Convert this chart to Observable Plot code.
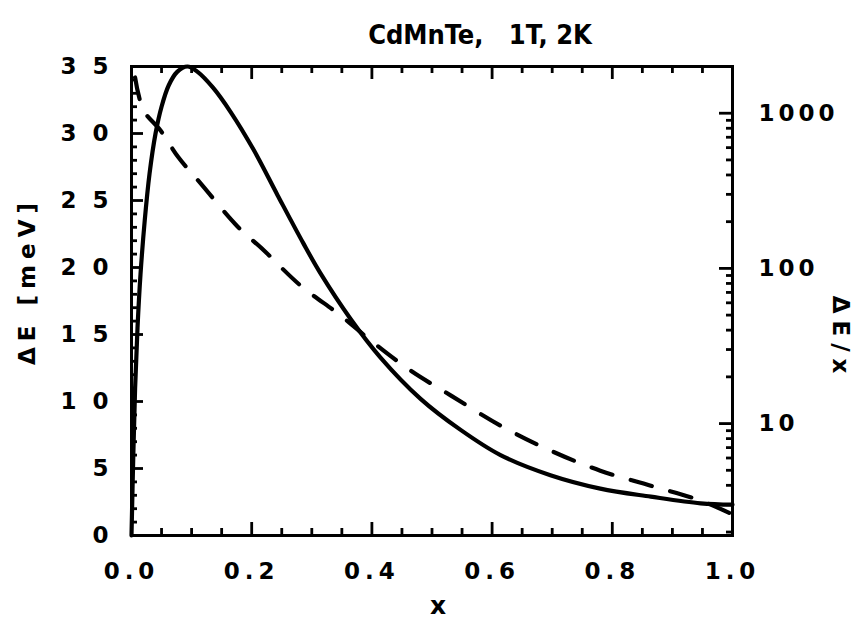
<!DOCTYPE html>
<html><head><meta charset="utf-8">
<script src="https://cdn.jsdelivr.net/npm/d3@7"></script>
<script src="https://cdn.jsdelivr.net/npm/@observablehq/plot@0.6"></script>
<style>
body{margin:0;background:#fff;}
#wrap{position:relative;width:857px;height:625px;}
#wrap svg{position:absolute;left:0;top:0;}
</style></head><body><div id="wrap"></div>
<script>
// ---- data ----
const titleText = "CdMnTe,   1T, 2K";
const xLabel = "x";
const leftLabel = "ΔE [meV]";
const rightLabel = "ΔE/x";

// solid curve: ΔE (meV), left linear axis
const solidX = [0, 0.003, 0.006, 0.01, 0.015, 0.022, 0.03, 0.04, 0.05, 0.062, 0.076, 0.093, 0.11, 0.136, 0.165, 0.203, 0.243, 0.286, 0.314, 0.364, 0.414, 0.481, 0.547, 0.614, 0.697, 0.78, 0.864, 0.947, 1.0];
const solidE = [0, 6, 11, 15.5, 19.5, 23.5, 27, 30, 32, 33.6, 34.6, 35, 34.6, 33.4, 31.6, 28.8, 25.4, 21.8, 19.6, 16.2, 13.3, 10.2, 7.9, 6.0, 4.5, 3.5, 2.9, 2.4, 2.3];

// dashed curve: ΔE/x, right log axis
const dashX = [0.006, 0.02, 0.048, 0.078, 0.115, 0.176, 0.22, 0.281, 0.348, 0.398, 0.464, 0.531, 0.614, 0.697, 0.78, 0.864, 0.947, 1.0];
const dashR = [1700, 1045, 777, 520, 353, 187, 131, 77.7, 49.7, 34.3, 22.0, 15.2, 9.7, 6.7, 4.97, 3.98, 3.19, 2.6];

const xTickValues = [0, 0.2, 0.4, 0.6, 0.8, 1.0];
const leftTickValues = [0, 5, 10, 15, 20, 25, 30, 35];
const rightTickValues = [10, 100, 1000];

// ---- layout ----
const W = 857, H = 625, ML = 131, MR = 125, MT = 66, MB = 90;
const FW = W - ML - MR, FH = H - MT - MB;
const xDomain = [0, 1];
const leftDomain = [0, 35];
const rightDomain = [1.9, 2000];

const solid = solidX.map((x, i) => ({x, y: solidE[i]}));
const dashed = dashX.map((x, i) => ({x, y: dashR[i]}));

const xMajorTicks = [0.2, 0.4, 0.6, 0.8];
const xMinorTicks = d3.range(1, 20).map(i => i * 0.05).filter(v => !xMajorTicks.some(m => Math.abs(m - v) < 1e-9));
const leftMajorTicks = [5, 10, 15, 20, 25, 30];
const leftMinorTicks = d3.range(1, 35).filter(v => v % 5 !== 0);
const rightMinorTicks = [];
for (const dec of [1, 10, 100, 1000]) for (let k = 2; k <= 9; k++) {
  const v = k * dec; if (v > rightDomain[0] && v < rightDomain[1]) rightMinorTicks.push(v);
}

// tick lengths in pixels, expressed in data units of each scale
const xLen = px => px * (xDomain[1] - xDomain[0]) / FW;
const yLen = px => px * (leftDomain[1] - leftDomain[0]) / FH;

const common = {
  width: W, height: H, marginLeft: ML, marginRight: MR, marginTop: MT, marginBottom: MB,
  x: {domain: xDomain, axis: null}
};
const tk = {stroke: "#000", strokeWidth: 2.8, strokeLinecap: "butt"};
const baseStyle = {fontFamily: "'DejaVu Sans', sans-serif", fontWeight: "bold", fontSize: "23px", background: "transparent", overflow: "visible"};

const p1 = Plot.plot({
  ...common,
  style: baseStyle,
  y: {domain: leftDomain, axis: null},
  marks: [
    Plot.ruleX(xMinorTicks, {x: d => d, y1: leftDomain[0], y2: leftDomain[0] + yLen(7), ...tk}),
    Plot.ruleX(xMajorTicks, {x: d => d, y1: leftDomain[0], y2: leftDomain[0] + yLen(13), ...tk}),
    Plot.ruleX(xMinorTicks, {x: d => d, y1: leftDomain[1], y2: leftDomain[1] - yLen(7), ...tk}),
    Plot.ruleX(xMajorTicks, {x: d => d, y1: leftDomain[1], y2: leftDomain[1] - yLen(13), ...tk}),
    Plot.ruleY(leftMinorTicks, {y: d => d, x1: xDomain[0], x2: xDomain[0] + xLen(6), ...tk}),
    Plot.ruleY(leftMajorTicks, {y: d => d, x1: xDomain[0], x2: xDomain[0] + xLen(12), ...tk}),
    Plot.frame({stroke: "#000", strokeWidth: 3}),
    Plot.line(solid, {x: "x", y: "y", stroke: "#000", strokeWidth: 4.2, curve: "catmull-rom"}),
    Plot.text(xTickValues, {x: d => d, frameAnchor: "bottom", dy: 43, textAnchor: "middle", text: d => d.toFixed(1), fill: "#000", fontSize: 23}),
    Plot.text(leftTickValues, {y: d => d, frameAnchor: "left", dx: -19, textAnchor: "end", text: d => String(d).split("").join(" "), fill: "#000", fontSize: 23}),
    Plot.text([leftLabel], {frameAnchor: "left", dx: -104, dy: -20, textAnchor: "middle", rotate: -90, fill: "#000", fontSize: 23}),
    Plot.text([xLabel], {frameAnchor: "bottom", dx: 6, dy: 78, textAnchor: "middle", fill: "#000", fontSize: 25}),
    Plot.text([titleText], {frameAnchor: "top", dx: 48, dy: -42, textAnchor: "middle", fill: "#000", fontSize: 27, fontFamily: "'Liberation Sans Narrow', 'DejaVu Sans Condensed', sans-serif"})
  ]
});

const p2 = Plot.plot({
  ...common,
  style: baseStyle,
  y: {type: "log", domain: rightDomain, axis: null},
  marks: [
    Plot.ruleY(rightMinorTicks, {y: d => d, x1: xDomain[1], x2: xDomain[1] - xLen(6), ...tk}),
    Plot.ruleY(rightTickValues, {y: d => d, x1: xDomain[1], x2: xDomain[1] - xLen(13), ...tk}),
    Plot.line(dashed, {x: "x", y: "y", stroke: "#000", strokeWidth: 4.2, strokeDasharray: "22,19", curve: "catmull-rom"}),
    Plot.text(rightTickValues, {y: d => d, frameAnchor: "right", dx: 26, textAnchor: "start", text: d => String(d), fill: "#000", fontSize: 23}),
    Plot.text([rightLabel], {frameAnchor: "right", dx: 108, dy: 37, textAnchor: "middle", rotate: 90, fill: "#000", fontSize: 23})
  ]
});

// letter spacing of the original's spaced-out lettering
function space(svg) {
  const xLabels = xTickValues.map(d => d.toFixed(1));
  const otherTicks = new Set([
    ...leftTickValues.map(d => String(d).split("").join(" ")),
    ...rightTickValues.map(String)
  ]);
  svg.querySelectorAll("text").forEach(t => {
    const s = t.textContent;
    let ls = null;
    if (s === leftLabel) ls = 6;
    else if (s === rightLabel) ls = 7;
    else if (xLabels.includes(s)) ls = 5;
    else if (otherTicks.has(s)) ls = 4;
    if (ls != null) t.style.letterSpacing = ls + "px";
  });
}
space(p1); space(p2);

const wrap = document.getElementById("wrap");
wrap.appendChild(p1);
wrap.appendChild(p2);
</script>
</body></html>
